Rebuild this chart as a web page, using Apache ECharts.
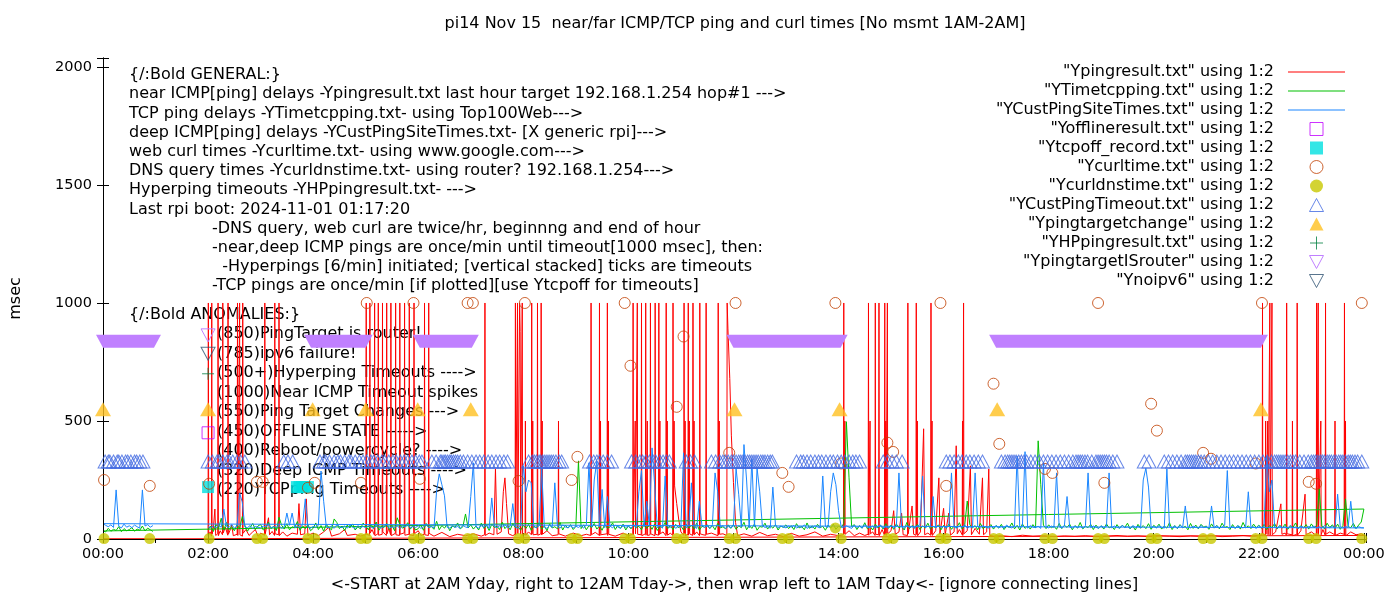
<!DOCTYPE html>
<html><head><meta charset="utf-8">
<script src="https://cdn.jsdelivr.net/npm/echarts/dist/echarts.min.js"></script>
<style>html,body{margin:0;padding:0;background:#fff}#chart{width:1400px;height:600px}</style>
</head><body><div id="chart"></div>
<script>
// ---------------- DATA ----------------
const titleText = 'pi14 Nov 15  near/far ICMP/TCP ping and curl times [No msmt 1AM-2AM]';
const xAxisTitle = '<-START at 2AM Yday, right to 12AM Tday->, then wrap left to 1AM Tday<- [ignore connecting lines]';
const yAxisTitle = 'msec';
const seriesNames = [
  '"Ypingresult.txt" using 1:2',
  '"YTimetcpping.txt" using 1:2',
  '"YCustPingSiteTimes.txt" using 1:2',
  '"Yofflineresult.txt" using 1:2',
  '"Ytcpoff_record.txt" using 1:2',
  '"Ycurltime.txt" using 1:2',
  '"Ycurldnstime.txt" using 1:2',
  '"YCustPingTimeout.txt" using 1:2',
  '"Ypingtargetchange" using 1:2',
  '"YHPpingresult.txt" using 1:2',
  '"YpingtargetISrouter" using 1:2',
  '"Ynoipv6" using 1:2'
];
const generalLines = [
  '{/:Bold GENERAL:}',
  'near ICMP[ping] delays -Ypingresult.txt last hour target 192.168.1.254 hop#1 --->',
  'TCP ping delays -YTimetcpping.txt- using Top100Web--->',
  'deep ICMP[ping] delays -YCustPingSiteTimes.txt- [X generic rpi]--->',
  'web curl times -Ycurltime.txt- using www.google.com--->',
  'DNS query times -Ycurldnstime.txt- using router? 192.168.1.254--->',
  'Hyperping timeouts -YHPpingresult.txt- --->',
  'Last rpi boot: 2024-11-01 01:17:20',
  '-DNS query, web curl are twice/hr, beginnng and end of hour',
  '-near,deep ICMP pings are once/min until timeout[1000 msec], then:',
  '  -Hyperpings [6/min] initiated; [vertical stacked] ticks are timeouts',
  '-TCP pings are once/min [if plotted][use Ytcpoff for timeouts]'
];
const anomalyLines = [
  '{/:Bold ANOMALIES:}',
  '(850)PingTarget is router!',
  '(785)ipv6 failure!',
  '(500+)Hyperping Timeouts ---->',
  '(1000)Near ICMP Timeout spikes',
  '(550)Ping Target Changes --->',
  '(450)OFFLINE STATE ----->',
  '(400)Reboot/powercycle? ---->',
  '(320)Deep ICMP Timeouts ---->',
  '(220)TCPping Timeouts ---->'
];

// near ICMP (red): [hour, msec] in file order (2AM yday -> midnight, then wrap to today)
const redNear = [
 [2.00,15],[2.005,1000],[2.012,18],[2.04,30],[2.064,12],[2.07,1000],[2.076,20],[2.10,45],[2.13,127],[2.145,15],[2.184,22],[2.19,1000],[2.196,14],[2.23,35],[2.274,18],[2.28,1000],[2.286,25],[2.33,50],[2.374,16],[2.38,1000],[2.386,20],[2.42,38],[2.45,60],[2.48,14],[2.554,20],[2.56,1000],[2.566,15],[2.594,22],[2.60,1000],[2.606,18],[2.654,12],[2.66,1000],[2.666,24],[2.72,40],[2.78,15],[2.85,30],[2.90,40],[2.95,12],[3.00,25],[3.074,16],[3.08,1000],[3.086,20],[3.15,90],[3.17,18],[3.22,32],[3.264,15],[3.27,1000],[3.276,22],[3.344,18],[3.35,1000],[3.356,14],[3.42,30],[3.50,12],[3.60,25],[3.70,20],[3.73,150],[3.76,18],[3.84,22],[3.87,170],[3.90,15],[4.00,25],[4.10,14],[4.20,30],[4.30,50],[4.35,12],[4.50,22],[4.60,40],[4.65,15],[4.80,20],[4.90,12],
 [5.004,18],[5.01,1000],[5.016,20],[5.074,15],[5.08,1000],[5.086,25],[5.12,40],[5.164,18],[5.17,1000],[5.176,14],[5.234,22],[5.24,1000],[5.246,16],[5.314,20],[5.32,1000],[5.326,30],[5.394,15],[5.40,1000],[5.406,22],[5.44,45],[5.474,18],[5.48,1000],[5.486,14],[5.564,24],[5.57,1000],[5.576,18],[5.644,15],[5.65,1000],[5.656,20],[5.734,26],[5.74,1000],[5.746,16],[5.824,20],[5.83,1000],[5.836,18],[5.914,14],[5.92,1000],[5.926,22],[6.00,35],[6.05,15],[6.114,20],[6.12,1000],[6.126,18],[6.194,15],[6.20,1000],[6.206,24],[6.30,12],[6.45,28],[6.60,10],[6.75,20],[6.90,14],[7.05,22],[7.20,12],
 [7.264,18],[7.27,1000],[7.276,15],[7.35,25],[7.44,18],[7.47,297],[7.50,20],[7.58,30],[7.62,200],[7.65,259],[7.68,150],[7.72,22],[7.80,14],[7.844,20],[7.85,1000],[7.856,16],[7.884,18],[7.89,1000],[7.896,22],[7.924,15],[7.93,1000],[7.94,880],[7.95,20],[7.974,18],[7.98,1000],[7.986,14],[8.034,22],[8.04,500],[8.046,16],[8.10,30],[8.154,18],[8.16,1000],[8.166,22],[8.174,15],[8.18,500],[8.186,18],[8.264,20],[8.27,1000],[8.276,16],[8.334,22],[8.34,1000],[8.346,18],[8.354,14],[8.36,500],[8.366,20],[8.45,35],[8.55,14],[8.664,18],[8.67,500],[8.676,22],[8.80,12],[8.95,25],[9.10,14],[9.20,20],
 [9.284,15],[9.29,1000],[9.296,18],[9.37,28],[9.444,16],[9.45,1000],[9.456,14],[9.464,20],[9.47,500],[9.476,18],[9.594,22],[9.60,1000],[9.606,15],[9.614,18],[9.62,500],[9.626,20],[9.75,12],[9.90,25],[10.00,14],[10.084,20],[10.09,1000],[10.096,18],[10.124,15],[10.13,500],[10.136,22],[10.164,16],[10.17,1000],[10.176,20],[10.244,18],[10.25,1000],[10.256,14],[10.324,22],[10.33,1000],[10.336,16],[10.354,20],[10.36,500],[10.366,15],[10.414,18],[10.42,1000],[10.426,22],[10.504,14],[10.51,1000],[10.516,20],[10.574,16],[10.58,1000],[10.586,18],[10.594,15],[10.60,500],[10.606,22],[10.66,30],[10.714,14],[10.72,1000],[10.726,20],[10.734,18],[10.74,500],[10.746,16],[10.80,25],[10.844,15],[10.85,1000],[10.856,20],[10.864,18],[10.87,500],[10.88,225],[10.92,150],[10.96,80],[11.00,30],[11.054,16],[11.06,1000],[11.066,22],[11.074,18],[11.08,500],[11.086,14],[11.134,20],[11.14,1000],[11.146,16],[11.154,18],[11.16,500],[11.166,22],[11.224,15],[11.23,1000],[11.236,20],[11.244,16],[11.25,500],[11.256,18],[11.30,30],[11.354,14],[11.36,1000],[11.366,22],[11.42,18],[11.474,16],[11.48,1000],[11.486,20],[11.58,25],[11.704,14],[11.71,1000],[11.716,18],[11.724,16],[11.73,500],[11.736,20],[11.80,22],[11.874,15],[11.88,1000],[11.895,890],[11.93,680],[11.96,440],[12.00,240],[12.04,70],[12.08,14],
 [12.20,22],[12.35,12],[12.50,28],[12.65,14],[12.80,20],[12.95,10],[13.10,24],[13.25,12],[13.40,18],[13.55,30],[13.70,12],[13.85,20],[14.00,14],
 [14.094,18],[14.10,1000],[14.106,22],[14.114,16],[14.12,500],[14.126,20],[14.20,35],[14.30,14],[14.40,25],[14.50,15],[14.564,20],[14.57,1000],[14.576,16],[14.594,18],[14.60,500],[14.606,22],[14.65,30],[14.694,15],[14.70,1000],[14.706,20],[14.764,18],[14.77,1000],[14.776,14],[14.83,40],[14.874,16],[14.88,1000],[14.886,20],[14.894,18],[14.90,500],[14.906,15],[14.924,18],[14.93,1000],[14.936,22],[15.00,35],[15.05,120],[15.08,20],[15.15,30],[15.20,110],[15.23,18],[15.314,15],[15.32,1000],[15.326,22],[15.40,140],[15.43,20],[15.474,16],[15.48,1000],[15.486,20],[15.494,18],[15.50,500],[15.506,14],[15.56,30],[15.62,467],[15.64,18],[15.70,25],[15.754,16],[15.76,1000],[15.766,20],[15.774,18],[15.78,500],[15.786,15],[15.85,35],[15.91,259],[15.93,20],[16.00,130],[16.03,18],[16.10,110],[16.13,16],[16.20,30],[16.24,395],[16.26,22],[16.30,40],[16.354,18],[16.36,500],[16.366,15],[16.374,16],[16.38,1000],[16.386,22],[16.45,35],[16.51,310],[16.53,18],[16.60,45],[16.68,20],[16.74,259],[16.76,18],[16.82,30],[16.86,297],[16.88,15],[16.95,12],
 [17.10,14],[17.30,10],[17.50,16],[17.70,12],[17.90,14],[18.10,10],[18.30,13],[18.50,11],[18.70,14],[18.90,10],[19.10,12],[19.30,15],[19.50,11],[19.70,13],[19.90,10],[20.10,14],[20.30,12],[20.50,10],[20.70,13],[20.90,11],[21.10,14],[21.30,10],[21.50,12],[21.70,15],[21.90,11],[22.00,14],
 [22.064,18],[22.07,1000],[22.076,22],[22.124,16],[22.13,500],[22.136,20],[22.164,15],[22.17,500],[22.176,18],[22.204,22],[22.21,1000],[22.216,16],[22.244,20],[22.25,1000],[22.256,18],[22.32,30],[22.42,149],[22.44,20],[22.50,25],[22.524,16],[22.53,1000],[22.536,22],[22.634,18],[22.64,500],[22.646,14],[22.724,20],[22.73,1000],[22.736,16],[22.80,35],[22.88,190],[22.90,18],[23.00,30],[23.094,15],[23.10,1000],[23.106,18],[23.124,20],[23.13,1000],[23.136,16],[23.174,22],[23.18,500],[23.186,18],[23.22,40],[23.264,16],[23.27,1000],[23.276,20],[23.35,30],[23.444,18],[23.45,500],[23.456,15],[23.55,25],[23.624,20],[23.63,1000],[23.636,16],[23.644,18],[23.65,500],[23.656,14],[23.75,30],[23.85,18],[23.95,22],[24.00,15],
 [0.00,0],[0.95,0]
];

// TCP ping (green): one sample every 0.05 h, 02:00 -> 24:00 yesterday, then 00:00 -> 00:55 today
const SAMPLE_STEP = 0.05;
const greenYdayStart = 2.0;
const greenYday = [
 40,55,32,62,45,88,38,70,41,52,35,60,44,95,58,33,49,66,40,55,
 62,38,47,71,43,55,36,92,58,42,65,39,52,48,74,37,56,44,61,35,
 45,68,40,57,33,62,48,39,85,70,44,55,36,59,47,64,38,52,43,67,
 56,39,63,45,72,37,54,49,66,40,58,35,90,61,46,53,69,42,57,38,
 44,59,37,66,48,53,41,75,39,57,46,62,35,55,50,68,43,52,106,47,
 60,42,55,38,67,45,58,36,63,49,54,40,71,44,57,39,65,48,52,37,
 58,45,62,37,54,48,69,41,56,35,64,47,52,43,70,38,59,46,61,40,
 53,331,44,60,39,57,48,66,42,55,37,62,46,51,68,40,58,45,63,38,
 56,43,61,47,54,39,67,45,58,41,64,36,53,49,70,44,57,40,62,48,
 55,38,63,46,59,42,68,37,54,50,61,44,57,39,66,47,52,43,60,45,
 62,41,56,48,71,39,58,45,64,37,53,50,67,42,57,46,61,38,55,49,
 60,44,57,40,65,47,53,39,68,45,56,42,62,48,54,37,59,46,63,41,
 55,48,66,497,259,52,61,40,57,46,69,43,54,38,63,47,58,42,65,45,
 59,41,64,47,55,38,70,44,57,49,62,40,56,46,67,42,53,48,60,39,
 58,45,63,41,56,48,69,43,54,161,60,47,57,39,66,44,52,49,61,42,
 57,46,62,40,55,49,68,43,58,38,64,45,56,42,61,47,416,230,59,44,
 60,47,55,41,66,44,58,49,63,39,57,46,70,43,54,48,62,40,59,45,
 56,42,64,47,53,40,61,45,58,49,67,43,55,38,62,46,57,44,65,41,
 58,48,63,42,55,46,69,40,57,44,61,47,54,39,66,45,59,43,62,50,
 55,41,64,46,58,43,67,49,53,40,61,45,57,42,70,47,56,44,63,48,
 59,45,62,40,56,48,66,43,58,47,63,41,55,49,68,44,57,46,61,42,
 64,47,58,212,55,43,67,49,60,45,63,41,57,170,52,48,66,44,59,72,
 127
];
const greenTodayStart = 0.0;
const greenToday = [34,30,45,33,41,36,52,31,44,35,40,48,33,42,37,55,34,46,39,32];

// deep ICMP (blue): same sampling
const blueYdayStart = 2.0;
const blueYday = [
 52,48,55,47,58,50,127,53,49,61,46,54,195,157,51,48,57,45,53,50,
 47,55,51,60,46,53,49,57,45,52,110,58,110,48,54,47,62,170,50,46,
 53,49,58,288,160,51,47,56,45,60,52,48,55,46,59,50,44,57,49,53,
 48,56,51,45,59,50,47,54,62,46,52,49,57,44,55,51,60,47,53,49,
 56,45,52,61,48,54,47,204,276,230,183,50,46,57,49,53,45,58,51,48,
 180,323,52,46,57,49,61,45,174,53,48,56,50,62,47,54,150,51,45,58,
 310,200,250,238,52,47,56,297,50,45,58,49,238,53,46,60,51,48,55,47,
 54,49,57,46,61,323,50,250,330,52,210,48,180,55,47,59,51,45,56,50,
 53,47,58,49,200,290,51,160,55,386,230,48,57,46,267,52,49,60,45,54,
 50,365,47,56,238,52,45,160,58,49,54,46,61,280,200,50,57,45,53,48,
 55,300,190,50,400,250,47,340,52,300,200,56,49,53,46,220,58,48,54,51,
 47,55,50,58,46,53,49,60,45,52,48,56,51,47,267,54,49,200,280,230,
 120,52,47,56,50,45,58,49,54,46,61,50,48,55,47,53,59,46,51,49,
 56,48,53,280,50,46,57,49,52,45,55,60,267,48,54,51,180,47,56,50,
 53,47,58,280,50,46,55,49,61,45,52,48,280,54,47,57,50,46,53,49,
 56,48,52,46,59,50,47,55,352,49,53,370,46,57,50,48,54,45,323,51,
 47,55,49,280,52,46,58,180,50,47,54,49,53,46,57,280,48,55,50,45,
 56,49,53,280,47,55,50,46,58,48,52,45,57,50,54,47,250,300,220,49,
 53,47,56,50,46,297,52,48,55,45,58,49,140,51,47,54,50,46,57,48,
 52,46,140,49,55,47,51,58,290,48,53,46,56,50,47,54,200,49,52,45,
 56,48,53,352,200,250,50,47,55,49,52,46,58,48,51,45,54,50,47,53,
 49,55,47,52,46,57,50,48,54,45,190,51,47,53,49,160,50,46,52,48,
 47
];
const blueTodayStart = 0.0;
const blueToday = [65,58,52,60,49,208,54,47,63,50,56,48,59,52,46,208,55,61,50,57];

const offlinePts = [[2.0,450]];
const tcpoffPts = [[2.0,220],[3.69,220],[3.74,220],[3.79,220],[3.84,220],[3.90,220]];
const curlPts = [[0.02,250],[0.89,225],[2.02,234],[2.93,242],[3.04,242],[3.90,217],[4.03,238],[4.91,238],[5.02,1000],[5.91,1000],[6.03,255],[6.94,1000],[7.04,1000],[7.91,246],[8.03,1000],[8.92,250],[9.03,348],[9.93,1000],[10.04,734],[10.92,560],[11.05,858],[11.92,365],[12.04,1000],[12.93,280],[13.05,221],[13.94,1000],[14.05,320],[14.93,408],[15.04,369],[15.94,1000],[16.05,225],[16.95,658],[17.06,403],[17.93,297],[18.07,280],[18.94,1000],[19.06,238],[19.95,573],[20.06,459],[20.94,365],[21.09,340],[21.94,320],[22.06,1000],[22.95,242],[23.09,234],[23.96,1000]];
const dnsPts = [[0.02,2],[0.89,2],[2.02,2],[2.93,2],[3.04,2],[3.90,2],[4.03,2],[4.91,2],[5.02,2],[5.91,2],[6.03,2],[6.94,2],[7.04,2],[7.91,2],[8.03,2],[8.92,2],[9.03,2],[9.93,2],[10.04,2],[10.92,2],[11.05,2],[11.92,2],[12.04,2],[12.93,2],[13.05,2],[13.94,47],[14.05,2],[14.93,2],[15.04,2],[15.94,2],[16.05,2],[16.95,2],[17.06,2],[17.93,2],[18.07,2],[18.94,2],[19.06,2],[19.95,2],[20.06,2],[20.94,2],[21.09,2],[21.94,2],[22.06,2],[22.95,2],[23.09,2],[23.96,2]];
const custTimeoutValue = 328;
const custTimeoutHours = [
 0.04,0.10,0.13,0.20,0.27,0.30,0.36,0.43,0.47,0.53,0.60,0.64,0.70,0.76,
 2.00,2.08,2.17,2.20,2.28,2.36,2.40,2.47,2.55,2.62,2.70,
 3.44,3.52,3.61,
 4.13,4.20,4.24,4.31,4.40,4.47,4.52,4.60,4.68,4.72,4.80,4.88,4.95,5.02,5.10,5.15,5.23,5.31,5.36,5.44,5.52,5.58,5.66,5.73,5.80,5.88,5.95,6.02,6.07,
 6.26,6.34,6.42,6.45,6.49,6.52,6.56,6.60,6.63,6.67,6.71,6.75,6.80,6.86,6.94,7.02,7.10,7.17,7.25,7.33,7.40,7.48,7.55,7.63,7.70,
 8.10,8.17,8.21,8.25,8.30,8.33,8.37,8.41,8.45,8.49,8.53,8.57,8.62,8.68,8.73,
 9.26,9.34,9.40,9.45,9.52,9.60,9.68,
 10.06,10.14,10.22,10.27,10.33,10.40,10.47,10.52,10.60,10.66,10.72,10.78,
 11.10,11.18,11.26,
 11.58,11.66,11.74,11.80,11.85,11.90,11.96,12.00,12.05,12.10,12.14,12.18,12.22,12.27,12.31,12.35,12.39,12.43,12.47,12.52,12.56,12.60,12.65,12.70,12.74,
 13.20,13.28,13.33,13.40,13.47,13.55,13.62,13.68,13.76,13.84,13.90,13.98,14.05,14.12,14.20,14.27,14.33,14.40,
 14.85,14.93,15.02,15.10,15.21,
 16.05,16.12,16.20,16.28,16.35,16.43,16.50,16.58,16.66,16.74,
 17.10,17.17,17.22,17.26,17.30,17.34,17.38,17.43,17.48,17.53,17.58,17.66,17.74,17.82,17.90,17.98,18.06,18.14,18.22,18.30,18.38,18.46,18.52,18.56,18.60,18.64,18.69,18.74,18.82,18.90,18.94,18.98,19.02,19.06,19.10,19.15,19.22,19.30,
 19.82,19.91,
 20.20,20.28,20.36,20.44,20.52,20.60,20.64,20.68,20.72,20.76,20.80,20.85,20.90,20.96,21.04,21.12,21.20,21.28,21.36,21.44,21.52,21.60,21.68,21.76,21.84,21.92,22.00,22.08,22.16,22.24,22.30,22.34,22.38,22.42,22.46,22.50,22.55,22.60,22.65,22.70,22.78,22.86,22.94,23.00,23.04,23.08,23.12,23.17,23.21,23.25,23.30,23.34,23.38,23.43,23.47,23.52,23.56,23.60,23.65,23.70,23.74,23.78,23.83,23.88,23.96
];
const targetChangeValue = 550;
const targetChangeHours = [0.0,2.0,3.99,5.0,5.99,7.0,12.02,14.02,17.02,22.04];
const hyperpingPts = [[2.0,700]];
// router periods: [start hour, end hour, msec]
const routerPeriods = [[0.0,0.97,840],[2.0,2.0,865],[3.96,5.0,840],[6.03,7.02,840],[12.0,14.04,840],[17.0,22.04,840]];
const noipv6Pts = [[2.0,785]];

// ---------------- CHART ----------------
const FONT = 'DejaVu Sans';
const FS = 16;      // text size
const FS_TICK = 14.5; // tick label size
const X_MAX = 24.04, Y_MAX = 2038;

function sampled(start, arr) { return arr.map((v, i) => [start + i * SAMPLE_STEP, v]); }
const greenData = sampled(greenYdayStart, greenYday).concat(sampled(greenTodayStart, greenToday));
const blueData = sampled(blueYdayStart, blueYday).concat(sampled(blueTodayStart, blueToday));

const HOLLOW = 'rgba(0,0,0,0)';
const LINE_ICON = 'path://M0,0H57V1H0Z';
const SQUARE = 'path://M0,0H12V12H0Z';
const TRI_UP = 'path://M7,0L14,13L0,13Z';
const PLUS = 'path://M0,6H12M6,0V12';
const TRI_DOWN = 'path://M0,0L14,0L7,13Z';

const chart = echarts.init(document.getElementById('chart'), null, {renderer: 'canvas'});

const textFont = FS + 'px "' + FONT + '"';
const textEls = [];
const genX = [129,129,129,129,129,129,129,129,212,212,212,212];
generalLines.forEach((t, i) => textEls.push({type:'text', z: 1, x: genX[i], y: 75 + i * 19.2,
  style: {text: t, fill: '#000', font: textFont, verticalAlign: 'middle'}}));
anomalyLines.forEach((t, i) => textEls.push({type:'text', z: 1, x: i === 0 ? 129 : 217, y: i === 0 ? 315 : 334 + (i - 1) * 19.5,
  style: {text: t, fill: '#000', font: textFont, verticalAlign: 'middle'}}));
textEls.push({type:'text', z: 1, x: 735, y: 24,
  style: {text: titleText, fill: '#000', font: textFont, align: 'center', verticalAlign: 'middle'}});

const axisCommon = {
  axisLine: {show: true, lineStyle: {color: '#000', width: 1}},
  axisTick: {show: true, inside: true, length: 6, lineStyle: {color: '#000'}},
  splitLine: {show: false},
  z: 3
};

const option = {
  animation: false,
  textStyle: {fontFamily: FONT},
  graphic: {elements: textEls},
  grid: {left: 101, right: 34, top: 58, bottom: 61, containLabel: false},
  legend: {
    orient: 'vertical', right: 55, top: 64, align: 'right',
    itemWidth: 57, itemHeight: 13, itemGap: 3, padding: 0,
    selectedMode: false,
    textStyle: {fontFamily: FONT, fontSize: FS, color: '#000', padding: [0, 9, 0, 0], lineHeight: 14},
    data: [
      {name: seriesNames[0], icon: LINE_ICON},
      {name: seriesNames[1], icon: LINE_ICON},
      {name: seriesNames[2], icon: LINE_ICON},
      {name: seriesNames[3], icon: SQUARE, itemStyle: {borderWidth: 1}},
      {name: seriesNames[4], icon: SQUARE},
      {name: seriesNames[5], icon: 'circle', itemStyle: {borderWidth: 1}},
      {name: seriesNames[6], icon: 'circle'},
      {name: seriesNames[7], icon: TRI_UP, itemStyle: {borderWidth: 1}},
      {name: seriesNames[8], icon: TRI_UP},
      {name: seriesNames[9], icon: PLUS, itemStyle: {borderWidth: 1}},
      {name: seriesNames[10], icon: TRI_DOWN, itemStyle: {color: HOLLOW, borderColor: '#c080ff', borderWidth: 1}},
      {name: seriesNames[11], icon: TRI_DOWN, itemStyle: {borderWidth: 1}}
    ]
  },
  xAxis: [
    Object.assign({}, axisCommon, {
      type: 'value', position: 'bottom', min: 0, max: X_MAX, interval: 2,
      axisLabel: {color: '#000', fontSize: FS_TICK, fontFamily: FONT, margin: 8,
        formatter: v => { if (Math.abs(v - Math.round(v)) > 1e-6) return ''; const h = Math.round(v) % 24; return (h < 10 ? '0' : '') + h + ':00'; }},
      name: xAxisTitle, nameLocation: 'middle', nameGap: 38,
      nameTextStyle: {color: '#000', fontSize: FS, fontFamily: FONT}
    }),
    Object.assign({}, axisCommon, {
      type: 'value', position: 'top', min: 0, max: X_MAX, interval: 1,
      axisTick: {show: true, inside: true, length: 4, lineStyle: {color: '#000'}},
      axisLabel: {show: false}
    })
  ],
  yAxis: [
    Object.assign({}, axisCommon, {
      type: 'value', position: 'left', min: 0, max: Y_MAX, interval: 500,
      axisLabel: {color: '#000', fontSize: FS_TICK, fontFamily: FONT, margin: 11,
        formatter: v => (v % 500 === 0 ? String(v) : '')},
      name: yAxisTitle, nameLocation: 'middle', nameGap: 79, nameRotate: 90,
      nameTextStyle: {color: '#000', fontSize: FS, fontFamily: FONT}
    }),
    Object.assign({}, axisCommon, {
      type: 'value', position: 'right', min: 0, max: Y_MAX, interval: 500,
      axisLabel: {show: false}
    })
  ],
  series: [
    {name: seriesNames[0], type: 'line', data: redNear, symbol: 'none', showSymbol: false, z: 2,
      lineStyle: {color: '#ff0000', width: 1}, itemStyle: {color: '#ff0000'}, silent: true},
    {name: seriesNames[1], type: 'line', data: greenData, symbol: 'none', showSymbol: false, z: 2,
      lineStyle: {color: '#00c000', width: 1}, itemStyle: {color: '#00c000'}, silent: true},
    {name: seriesNames[2], type: 'line', data: blueData, symbol: 'none', showSymbol: false, z: 2,
      lineStyle: {color: '#1a86ff', width: 1}, itemStyle: {color: '#1a86ff'}, silent: true},
    {name: seriesNames[3], type: 'scatter', data: offlinePts, symbol: 'rect', symbolSize: 12, z: 4, silent: true,
      itemStyle: {color: HOLLOW, borderColor: '#c000ff', borderWidth: 1}},
    {name: seriesNames[4], type: 'scatter', data: tcpoffPts, symbol: 'rect', symbolSize: 12, z: 4, silent: true,
      itemStyle: {color: '#00e0e0'}},
    {name: seriesNames[5], type: 'scatter', data: curlPts, symbol: 'circle', symbolSize: 11, z: 4, silent: true,
      itemStyle: {color: HOLLOW, borderColor: '#c04000', borderWidth: 1}},
    {name: seriesNames[6], type: 'scatter', data: dnsPts, symbol: 'circle', symbolSize: 11, z: 4, silent: true,
      itemStyle: {color: '#c8c800'}},
    {name: seriesNames[7], type: 'scatter', data: custTimeoutHours.map(h => [h, custTimeoutValue]), symbol: 'triangle', symbolSize: [14, 13], z: 4, silent: true,
      itemStyle: {color: HOLLOW, borderColor: '#4169e1', borderWidth: 1}},
    {name: seriesNames[8], type: 'scatter', data: targetChangeHours.map(h => [h, targetChangeValue]), symbol: 'triangle', symbolSize: [16, 14], z: 4, silent: true,
      itemStyle: {color: '#ffc020'}},
    {name: seriesNames[9], type: 'scatter', data: hyperpingPts, symbol: PLUS, symbolSize: 12, z: 4, silent: true,
      itemStyle: {color: HOLLOW, borderColor: '#008040', borderWidth: 1}},
    {name: seriesNames[10], type: 'custom', data: routerPeriods, z: 4, silent: true,
      encode: {x: [0, 1], y: 2},
      itemStyle: {color: '#c080ff'},
      renderItem: (params, api) => {
        const a = api.coord([api.value(0), api.value(2)]);
        const b = api.coord([api.value(1), api.value(2)]);
        const hw = 7, top = a[1] - 6, bot = a[1] + 7;
        if (api.value(1) - api.value(0) < 1e-9) {
          return {type: 'polygon', shape: {points: [[a[0] - hw, top], [a[0] + hw, top], [a[0], bot]]},
            style: {fill: 'none', stroke: '#c080ff', lineWidth: 1}};
        }
        return {type: 'polygon', shape: {points: [[a[0] - hw, top], [b[0] + hw, top], [b[0], bot], [a[0], bot]]},
          style: {fill: '#c080ff'}};
      }},
    {name: seriesNames[11], type: 'scatter', data: noipv6Pts, symbol: TRI_DOWN, symbolSize: [14, 13], z: 4, silent: true,
      itemStyle: {color: HOLLOW, borderColor: '#2f5272', borderWidth: 1}}
  ]
};
chart.setOption(option);
</script></body></html>
